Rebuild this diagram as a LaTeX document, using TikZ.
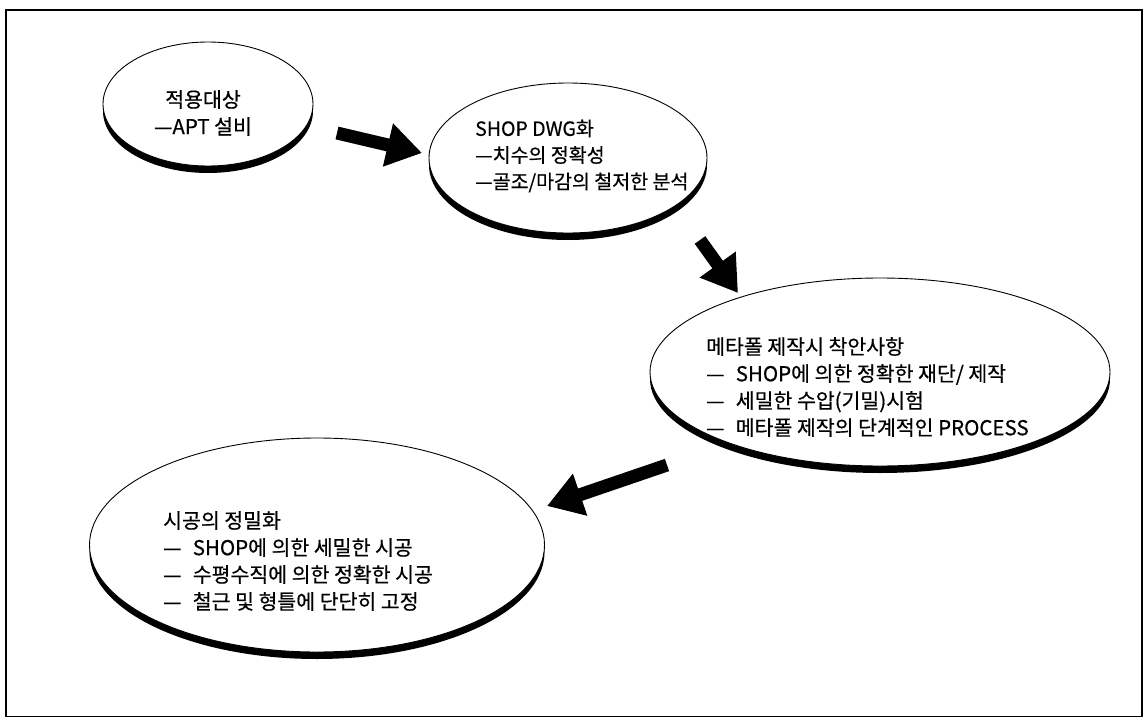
\documentclass[tikz,border=0pt]{standalone}
\usepackage{fontspec}
\setmainfont{Noto Sans CJK KR}[FakeBold=0.5]
\usetikzlibrary{shapes.geometric,shadows,arrows.meta}
\newcommand{\dd}{—\hspace{0.55em}}
\begin{document}
\begin{tikzpicture}[x=1pt,y=-1pt,
  bub/.style={ellipse,draw=black,line width=0.9pt,fill=white,inner sep=0pt,
    drop shadow={fill=black,opacity=1,shadow xshift=0pt,shadow yshift=-7pt}},
  txt/.style={align=left,font=\fontsize{20.5}{27}\selectfont,inner sep=0pt,anchor=west},
  bigarrow/.style={line width=13pt,-{Triangle[length=35pt,width=42pt]}}]
\useasboundingbox (0,0) rectangle (1146,717);
\node[draw,line width=1.6pt,minimum width=1136pt,minimum height=707pt,inner sep=0pt,anchor=north west] (frame) at (5,9) {};
% bubbles
\node[bub,minimum width=210pt,minimum height=124pt] (e1) at (208,104) {};
\node[bub,minimum width=278pt,minimum height=150pt] (e2) at (568,158) {};
\node[bub,minimum width=460pt,minimum height=188pt] (e3) at (880,372) {};
\node[bub,minimum width=455pt,minimum height=214pt] (e4) at (317,545) {};
% texts
\node[txt,align=center,anchor=center] (t1) at (203,113) {적용대상\\—APT 설비};
\node[txt,font=\fontsize{19.5}{26.5}\selectfont] (t2) at (475,156) {SHOP DWG화\\—치수의 정확성\\—골조/마감의 철저한 분석};
\node[txt] (t3) at (706,387) {메타폴 제작시 착안사항\\\dd SHOP에 의한 정확한 재단/ 제작\\\dd 세밀한 수압(기밀)시험\\\dd 메타폴 제작의 단계적인 PROCESS};
\node[txt] (t4) at (163,561) {시공의 정밀화\\\dd SHOP에 의한 세밀한 시공\\\dd 수평수직에 의한 정확한 시공\\\dd 철근 및 형틀에 단단히 고정};
% arrows
\coordinate (a1s) at (337,133);
\coordinate (a1e) at (422,153);
\coordinate (a2s) at (700,240);
\coordinate (a2e) at (738,293);
\coordinate (a3s) at (667,465);
\coordinate (a3e) at (547,506);
\draw[bigarrow] (a1s) -- (a1e);
\draw[bigarrow] (a2s) -- (a2e);
\draw[bigarrow] (a3s) -- (a3e);
\end{tikzpicture}
\end{document}
